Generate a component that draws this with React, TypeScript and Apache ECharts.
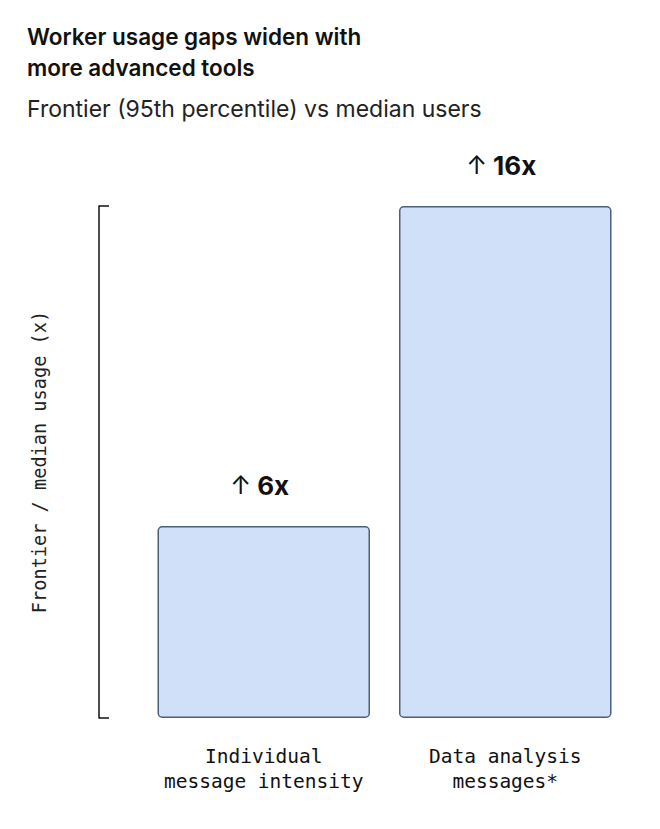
import React, { useEffect, useRef } from "react";
import * as echarts from "echarts";

const categories = ["Individual\nmessage intensity", "Data analysis\nmessages*"];
const ratios = [6, 16];
const labelTexts = ["6x", "16x"];

const titleText = "Worker usage gaps widen with\nmore advanced tools";
const subtitleText = "Frontier (95th percentile) vs median users";
const yAxisName = "Frontier / median usage (x)";

const SANS = "Inter, 'Noto Sans', 'DejaVu Sans', sans-serif";
const MONO = "'DejaVu Sans Mono', 'Liberation Mono', monospace";

export default function App() {
  const ref = useRef<HTMLDivElement>(null);
  useEffect(() => {
    if (!ref.current) return;
    const chart = echarts.init(ref.current, undefined, { renderer: "svg" });
    chart.setOption({
      animation: false,
      backgroundColor: "#ffffff",
      title: [
        {
          text: titleText,
          left: 27,
          top: 21,
          padding: 0,
          textStyle: {
            fontFamily: SANS,
            fontSize: 22.5,
            fontWeight: 600,
            lineHeight: 31,
            color: "#111111",
          },
        },
        {
          text: subtitleText,
          left: 27,
          top: 97,
          padding: 0,
          textStyle: {
            fontFamily: SANS,
            fontSize: 23,
            fontWeight: 400,
            color: "#222222",
          },
        },
      ],
      grid: { left: 143, right: 34, top: 206, bottom: 111 },
      xAxis: {
        type: "category",
        data: categories,
        axisLine: { show: false },
        axisTick: { show: false },
        axisLabel: {
          fontFamily: MONO,
          fontSize: 19.5,
          lineHeight: 25,
          color: "#111111",
          margin: 26,
          interval: 0,
        },
      },
      yAxis: {
        type: "value",
        min: 0,
        max: 16,
        interval: 16,
        offset: 44,
        splitLine: { show: false },
        axisLine: { show: true, lineStyle: { color: "#111111", width: 1.5 } },
        axisTick: {
          show: true,
          inside: true,
          length: 10,
          lineStyle: { color: "#111111", width: 1.5 },
        },
        axisLabel: { show: false },
        name: yAxisName,
        nameLocation: "middle",
        nameGap: 50,
        nameRotate: 90,
        nameTextStyle: {
          fontFamily: MONO,
          fontSize: 18.6,
          color: "#222222",
        },
      },
      series: [
        {
          type: "bar",
          data: ratios,
          barWidth: "88%",
          itemStyle: {
            color: "#cfe0f8",
            borderColor: "#4d5f80",
            borderWidth: 1.5,
            borderRadius: 4,
          },
          label: {
            show: true,
            position: "top",
            distance: 28,
            offset: [-4, 0],
            formatter: (p: any) => "{a|↑}{s|}{b|" + labelTexts[p.dataIndex] + "}",
            rich: {
              a: { fontFamily: SANS, fontSize: 25, color: "#111111", fontWeight: 400 },
              s: { width: 6 },
              b: { fontFamily: SANS, fontSize: 26, color: "#111111", fontWeight: 700 },
            },
          },
        },
      ],
    });
    return () => chart.dispose();
  }, []);
  return (
    <div
      ref={ref}
      style={{ position: "fixed", left: 0, top: 0, width: 660, height: 829 }}
    />
  );
}
